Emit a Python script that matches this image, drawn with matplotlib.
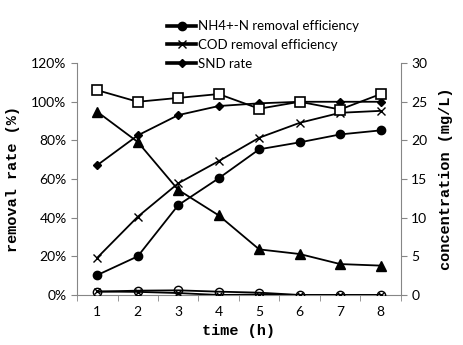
import matplotlib
matplotlib.use('Agg')
import matplotlib.pyplot as plt
from matplotlib.ticker import FuncFormatter

# time points (h)
time_h = [1, 2, 3, 4, 5, 6, 7, 8]

# left axis: removal rates (%)
nh4_removal = [10.3, 20.0, 46.5, 60.4, 75.4, 79.0, 83.1, 85.2]
cod_removal = [19.3, 40.5, 57.8, 69.3, 81.4, 89.1, 94.3, 95.3]
snd_rate = [67.2, 82.6, 93.1, 97.8, 99.2, 100.0, 100.0, 100.0]

# right axis: concentrations (mg/L)
conc_square = [26.5, 25.0, 25.5, 26.0, 24.1, 25.0, 24.0, 26.0]
conc_triangle = [23.7, 19.8, 13.6, 10.3, 5.9, 5.3, 4.0, 3.8]
conc_circle = [0.43, 0.56, 0.6, 0.43, 0.3, 0.0, 0.0, 0.0]
conc_xmark = [0.45, 0.4, 0.25, 0.0, 0.05, 0.0, 0.0, 0.0]

tick_font = 'Lato'
label_font = 'Liberation Mono'
grey = '#868686'

fig = plt.figure(figsize=(4.64, 3.45), dpi=100)
ax = fig.add_axes([0.166, 0.145, 0.698, 0.672])
ax2 = ax.twinx()

lw = 1.3
h1, = ax.plot(time_h, nh4_removal, color='black', lw=lw, marker='o', ms=6)
h2, = ax.plot(time_h, cod_removal, color='black', lw=lw, marker='x', ms=6, mew=1.0)
h3, = ax.plot(time_h, snd_rate, color='black', lw=lw, marker='D', ms=4.5)

ax2.plot(time_h, conc_square, color='black', lw=lw, marker='s', ms=6.5,
         mfc='white', mew=1.2)
ax2.plot(time_h, conc_triangle, color='black', lw=lw, marker='^', ms=7)
ax2.plot(time_h, conc_circle, color='black', lw=lw, marker='o', ms=6,
         mfc='none', mew=1.0)
ax2.plot(time_h, conc_xmark, color='black', lw=lw, marker='x', ms=5, mew=1.0)

ax.set_xlim(0.5, 8.5)
ax.set_ylim(0, 120)
ax2.set_ylim(0, 30)
ax.set_yticks(range(0, 121, 20))
ax2.set_yticks(range(0, 31, 5))
ax.yaxis.set_major_formatter(FuncFormatter(lambda v, p: f'{int(v)}%'))
ax.set_xticks(time_h)
ax.set_xticks([x + 0.5 for x in range(0, 9)], minor=True)
ax.tick_params(axis='x', which='major', length=0, pad=8)
ax.tick_params(axis='x', which='minor', length=4, color=grey, direction='out')
ax.tick_params(axis='y', length=4, color=grey, direction='out')
ax2.tick_params(axis='y', length=4, color=grey, direction='out')

for a in (ax, ax2):
    a.spines['top'].set_visible(False)
    for side in ('left', 'right', 'bottom'):
        a.spines[side].set_color(grey)
ax.spines['right'].set_visible(False)
ax2.spines['left'].set_visible(False)
ax2.spines['bottom'].set_visible(False)

for lab in ax.get_xticklabels() + ax.get_yticklabels() + ax2.get_yticklabels():
    lab.set_fontfamily(tick_font)
    lab.set_fontsize(10)

ax.set_xlabel('time (h)', fontfamily=label_font, fontweight='bold', fontsize=11)
ax.set_ylabel('removal rate (%)', fontfamily=label_font, fontweight='bold',
              fontsize=11, labelpad=8)
ax2.set_ylabel('concentration (mg/L)', fontfamily=label_font, fontweight='bold',
               fontsize=11, labelpad=8)

leg_labels = ['NH4+-N removal efficiency', 'COD removal efficiency', 'SND rate']
leg = fig.legend([h1, h2, h3], leg_labels, loc='upper left',
                 bbox_to_anchor=(0.335, 0.975), frameon=False,
                 prop={'family': tick_font, 'size': 9.5}, handlelength=2.2,
                 handletextpad=0.15, labelspacing=0.5)
for line in leg.get_lines():
    line.set_linewidth(2.6)

fig.savefig('out.png', dpi=100)
